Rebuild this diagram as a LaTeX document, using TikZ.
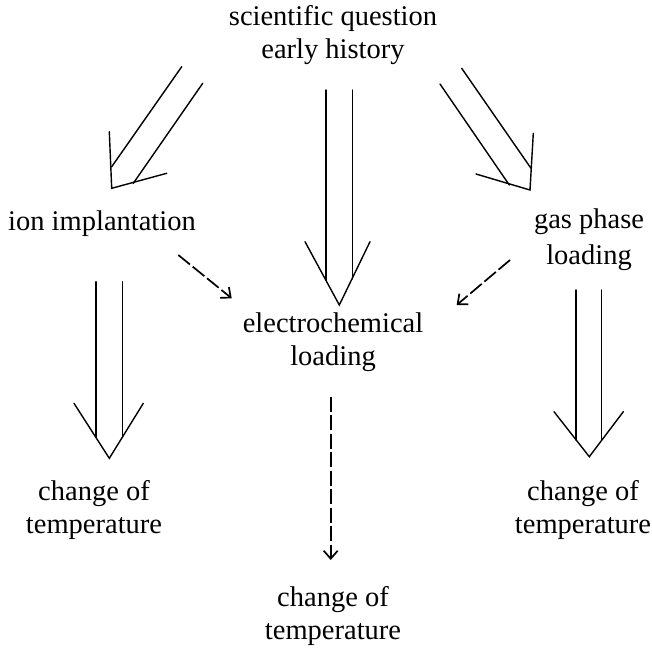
\documentclass[tikz,border=0pt]{standalone}
\usepackage{fontspec}
\setmainfont{Liberation Serif}
\usetikzlibrary{arrows.meta}
\begin{document}
\begin{tikzpicture}[x=1pt,y=-1pt,
  lbl/.style={font=\fontsize{28.5}{33}\selectfont, align=center, inner sep=0pt},
  dbl/.style={line width=1.4pt, line cap=round, line join=miter},
  dsh/.style={line width=1.7pt, dash pattern=on 15pt off 3.5pt,
    -{Straight Barb[length=8pt,width=14pt,line width=1.7pt]}}]
\useasboundingbox[fill=white] (0,0) rectangle (652,651);

% text nodes
\node[lbl] (q) at (333,35) {scientific question\\early history};
\node[lbl, anchor=west] (ion) at (8,224) {ion implantation};
\node[lbl] (gas) at (589,240) {gas phase\\[3pt]loading};
\node[lbl] (ec) at (333,342) {electrochemical\\loading};
\node[lbl] (t1) at (94,510) {change of\\temperature};
\node[lbl] (t2) at (583,510) {change of\\temperature};
\node[lbl] (t3) at (333,616) {change of\\temperature};

% left diagonal double arrow
\coordinate (la1) at (181.7,66.7);  \coordinate (la2) at (111.7,166.7);
\coordinate (lb1) at (202.7,83.3);  \coordinate (lb2) at (133.3,183.3);
\coordinate (lw1) at (109.3,131.7); \coordinate (lt) at (111.7,188.3);
\coordinate (lw2) at (166.7,173.3);
\draw[dbl] (la1) -- (la2);
\draw[dbl] (lb1) -- (lb2);
\draw[dbl] (lw1) -- (lt) -- (lw2);

% right diagonal double arrow
\coordinate (ra1) at (440,84);      \coordinate (ra2) at (509.3,185);
\coordinate (rb1) at (461.7,68.3);  \coordinate (rb2) at (531,168.3);
\coordinate (rw1) at (533.3,133.3); \coordinate (rt) at (530,190);
\coordinate (rw2) at (476,174);
\draw[dbl] (ra1) -- (ra2);
\draw[dbl] (rb1) -- (rb2);
\draw[dbl] (rw1) -- (rt) -- (rw2);

% center double arrow
\coordinate (ca1) at (326,90);    \coordinate (ca2) at (326,280);
\coordinate (cb1) at (352.3,90);  \coordinate (cb2) at (352.3,279);
\coordinate (cw1) at (305,241.7); \coordinate (ct) at (339.3,305);
\coordinate (cw2) at (370,241.7);
\draw[dbl] (ca1) -- (ca2);
\draw[dbl] (cb1) -- (cb2);
\draw[dbl] (cw1) -- (ct) -- (cw2);

% left lower double arrow
\coordinate (da1) at (96,281.7);    \coordinate (da2) at (96,437.5);
\coordinate (db1) at (122.3,281.7); \coordinate (db2) at (122.3,437.5);
\coordinate (dw1) at (74,403.3);    \coordinate (dt) at (109.3,458.3);
\coordinate (dw2) at (143.3,403.3);
\draw[dbl] (da1) -- (da2);
\draw[dbl] (db1) -- (db2);
\draw[dbl] (dw1) -- (dt) -- (dw2);

% right lower double arrow
\coordinate (ea1) at (576,290);     \coordinate (ea2) at (576,440);
\coordinate (eb1) at (601.7,290);   \coordinate (eb2) at (601.7,440);
\coordinate (ew1) at (554,411.7);   \coordinate (et) at (589.3,456.7);
\coordinate (ew2) at (623.3,411.7);
\draw[dbl] (ea1) -- (ea2);
\draw[dbl] (eb1) -- (eb2);
\draw[dbl] (ew1) -- (et) -- (ew2);

% dashed arrows
\coordinate (s1) at (178.3,255);   \coordinate (e1) at (231.7,298.3);
\coordinate (s2) at (510,260);     \coordinate (e2) at (456.7,305);
\coordinate (s3) at (330.7,396.7); \coordinate (e3) at (330.7,560);
\draw[dsh] (s1) -- (e1);
\draw[dsh] (s2) -- (e2);
\draw[dsh] (s3) -- (e3);
\end{tikzpicture}
\end{document}
